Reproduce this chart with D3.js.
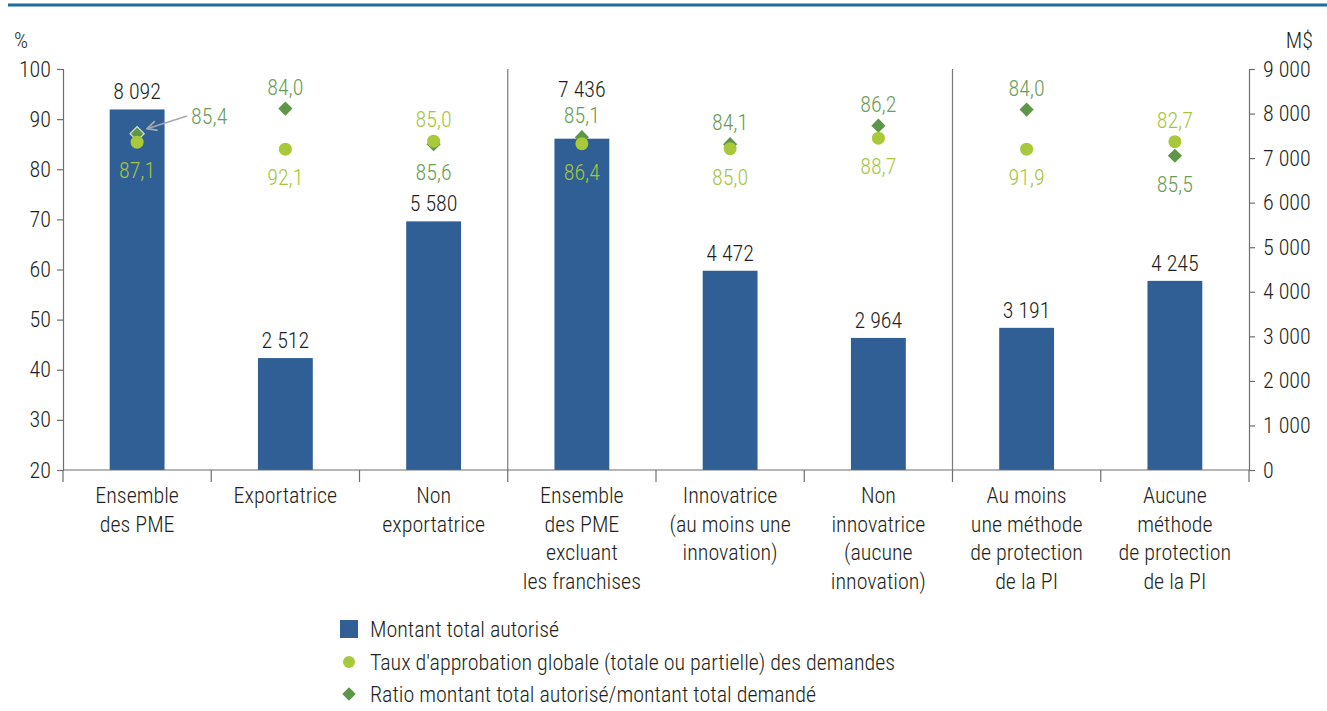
<!DOCTYPE html>
<html>
<head>
<meta charset="utf-8">
<script src="https://cdn.jsdelivr.net/npm/d3@7"></script>
<style>
  html, body { margin: 0; padding: 0; background: #fff; }
  svg { display: block; }
  text { font-family: "Roboto Condensed", "Roboto", "Liberation Sans", sans-serif; font-stretch: condensed; font-weight: 300; fill: #231f20; }
</style>
</head>
<body>
<svg id="chart" width="1327" height="711"></svg>
<script>
// ---- Data ----
const categories = [
  ["Ensemble", "des PME"],
  ["Exportatrice"],
  ["Non", "exportatrice"],
  ["Ensemble", "des PME", "excluant", "les franchises"],
  ["Innovatrice", "(au moins une", "innovation)"],
  ["Non", "innovatrice", "(aucune", "innovation)"],
  ["Au moins", "une méthode", "de protection", "de la PI"],
  ["Aucune", "méthode", "de protection", "de la PI"]
];
const amounts = [8092, 2512, 5580, 7436, 4472, 2964, 3191, 4245];          // M$ (right axis)
// Marker values as placed in the reference (left axis, %)
const circleValues  = [85.4, 84.0, 85.6, 85.1, 84.1, 86.2, 84.0, 85.5];
const diamondValues = [87.1, 92.1, 85.0, 86.4, 85.0, 88.7, 91.9, 82.7];
// Labels printed next to each marker in the reference
const circleLabels  = ["87,1", "92,1", "85,0", "86,4", "85,0", "88,7", "91,9", "82,7"];
const diamondLabels = ["85,4", "84,0", "85,6", "85,1", "84,1", "86,2", "84,0", "85,5"];
const leftTicks  = [20, 30, 40, 50, 60, 70, 80, 90, 100];
const rightTicks = [0, 1000, 2000, 3000, 4000, 5000, 6000, 7000, 8000, 9000];
const groupSeparators = [3, 6];
const legendItems = [
  "Montant total autorisé",
  "Taux d'approbation globale (totale ou partielle) des demandes",
  "Ratio montant total autorisé/montant total demandé"
];

// ---- Styles ----
const barColor = "#2f5f94";
const lightGreen = "#a9c83a";
const darkGreen = "#5d9646";
const lightText = "#a6c63d";
const darkText = "#6a9c55";
const axisColor = "#6d6e71";
const FS = 22;
const fmt = v => d3.format(",")(v).replace(/,/g, " ");

const svg = d3.select("#chart");
const mLeft = 63, mRight = 1249, mTop = 69, mBottom = 470;

const x = d3.scaleBand().domain(d3.range(categories.length)).range([mLeft, mRight]).paddingInner(0).paddingOuter(0);
const yL = d3.scaleLinear().domain([20, 100]).range([mBottom, mTop]);
const yR = d3.scaleLinear().domain([0, 9000]).range([mBottom, mTop]);
const barW = x.bandwidth() * 0.37;

// top rule
svg.append("line").attr("x1", 8).attr("x2", 1327).attr("y1", 5).attr("y2", 5)
  .attr("stroke", "#1f6b9c").attr("stroke-width", 3);

// separators
groupSeparators.forEach(i => {
  svg.append("line").attr("x1", x(i)).attr("x2", x(i)).attr("y1", mTop).attr("y2", mBottom)
    .attr("stroke", "#7a7a7a").attr("stroke-width", 1.2);
});

// bars
svg.selectAll("rect.bar").data(amounts).join("rect").attr("class", "bar")
  .attr("x", (d, i) => x(i) + x.bandwidth() / 2 - barW / 2)
  .attr("y", d => yR(d))
  .attr("width", barW)
  .attr("height", d => mBottom - yR(d))
  .attr("fill", barColor);

// left axis
const gL = svg.append("g").attr("transform", `translate(${mLeft},0)`)
  .call(d3.axisLeft(yL).tickValues(leftTicks).tickSize(6).tickPadding(6).tickFormat(d => d));
// right axis
const gR = svg.append("g").attr("transform", `translate(${mRight},0)`)
  .call(d3.axisRight(yR).tickValues(rightTicks).tickSize(6).tickPadding(8).tickFormat(d => fmt(d)));
[gL, gR].forEach(g => {
  g.attr("font-family", null);
  g.select(".domain").attr("stroke", axisColor).attr("stroke-width", 1.2);
  g.selectAll(".tick line").attr("stroke", axisColor).attr("stroke-width", 1.2);
  g.selectAll(".tick text").attr("font-size", FS).attr("fill", "#231f20");
});

// x axis line and boundary ticks
svg.append("line").attr("x1", mLeft).attr("x2", mRight).attr("y1", mBottom).attr("y2", mBottom)
  .attr("stroke", axisColor).attr("stroke-width", 1.2);
d3.range(categories.length + 1).forEach(i => {
  const xx = i < categories.length ? x(i) : mRight;
  svg.append("line").attr("x1", xx).attr("x2", xx).attr("y1", mBottom).attr("y2", mBottom + 12)
    .attr("stroke", axisColor).attr("stroke-width", 1.2);
});

// category labels
categories.forEach((lines, i) => {
  const t = svg.append("text").attr("text-anchor", "middle").attr("font-size", FS)
    .attr("x", x(i) + x.bandwidth() / 2).attr("y", 503);
  lines.forEach((l, j) => t.append("tspan").attr("x", x(i) + x.bandwidth() / 2).attr("dy", j === 0 ? 0 : 28.7).text(l));
});

// axis titles
svg.append("text").attr("x", 14).attr("y", 48).attr("font-size", FS).text("%");
svg.append("text").attr("x", 1313).attr("y", 48).attr("font-size", FS).attr("text-anchor", "end").text("M$");

// markers + labels
const diamond = d3.symbol().type(d3.symbolSquare).size(100);
const markerLabelYs = [];
categories.forEach((c, i) => {
  const cx = x(i) + x.bandwidth() / 2;
  const yc = yL(circleValues[i]);
  const yd = yL(diamondValues[i]);
  svg.append("path").attr("d", diamond())
    .attr("transform", `translate(${cx},${yd}) rotate(45)`)
    .attr("fill", darkGreen)
    .attr("stroke", i === 0 ? "#d9e3cf" : "none").attr("stroke-width", 1.2);
  svg.append("circle").attr("cx", cx).attr("cy", yc).attr("r", 6.5).attr("fill", lightGreen);

  const circleUpper = yc < yd;
  const upperY = Math.min(yc, yd), lowerY = Math.max(yc, yd);
  const aboveY = upperY - 14, belowY = lowerY + 36;
  const ys = [];
  const cy = circleUpper ? aboveY : belowY;
  ys.push(cy);
  svg.append("text").attr("x", cx).attr("text-anchor", "middle").attr("font-size", FS)
    .attr("y", cy).style("fill", lightText).text(circleLabels[i]);
  if (i === 0) {
    svg.append("text").attr("x", 191).attr("y", 124).attr("font-size", FS)
      .style("fill", darkText).text(diamondLabels[i]);
  } else {
    const dy = circleUpper ? belowY : aboveY;
    ys.push(dy);
    svg.append("text").attr("x", cx).attr("text-anchor", "middle").attr("font-size", FS)
      .attr("y", dy).style("fill", darkText).text(diamondLabels[i]);
  }
  markerLabelYs.push(ys);
});

// bar labels (lifted above marker labels when they would collide)
svg.selectAll("text.barlab").data(amounts).join("text").attr("class", "barlab")
  .attr("x", (d, i) => x(i) + x.bandwidth() / 2)
  .attr("y", (d, i) => {
    let y = yR(d) - 10;
    const ys = markerLabelYs[i];
    if (ys.some(v => Math.abs(v - y) < 22)) y = Math.min(...ys) - 26;
    return y;
  })
  .attr("text-anchor", "middle").attr("font-size", FS)
  .text(d => fmt(d));

// arrow annotation for first category
svg.append("defs").append("marker").attr("id", "arr").attr("viewBox", "0 0 10 10")
  .attr("refX", 9).attr("refY", 5).attr("markerWidth", 8).attr("markerHeight", 8).attr("orient", "auto")
  .append("path").attr("d", "M1,1 L9,5 L1,9").attr("fill", "none").attr("stroke", "#a7a9ac").attr("stroke-width", 1.5);
svg.append("line").attr("x1", 187).attr("y1", 116).attr("x2", x(0) + x.bandwidth() / 2 + 10).attr("y2", yL(diamondValues[0]) - 5)
  .attr("stroke", "#a7a9ac").attr("stroke-width", 1.5).attr("marker-end", "url(#arr)");

// legend
const lg = svg.append("g").attr("transform", "translate(340,0)");
lg.append("rect").attr("x", 0).attr("y", 620).attr("width", 18).attr("height", 18).attr("fill", barColor);
lg.append("circle").attr("cx", 9).attr("cy", 662).attr("r", 6).attr("fill", lightGreen);
lg.append("path").attr("d", d3.symbol().type(d3.symbolSquare).size(90)())
  .attr("transform", "translate(9,694) rotate(45)").attr("fill", darkGreen);
legendItems.forEach((t, i) => {
  lg.append("text").attr("x", 30).attr("y", [637, 670, 702][i]).attr("font-size", FS).text(t);
});
</script>
</body>
</html>
